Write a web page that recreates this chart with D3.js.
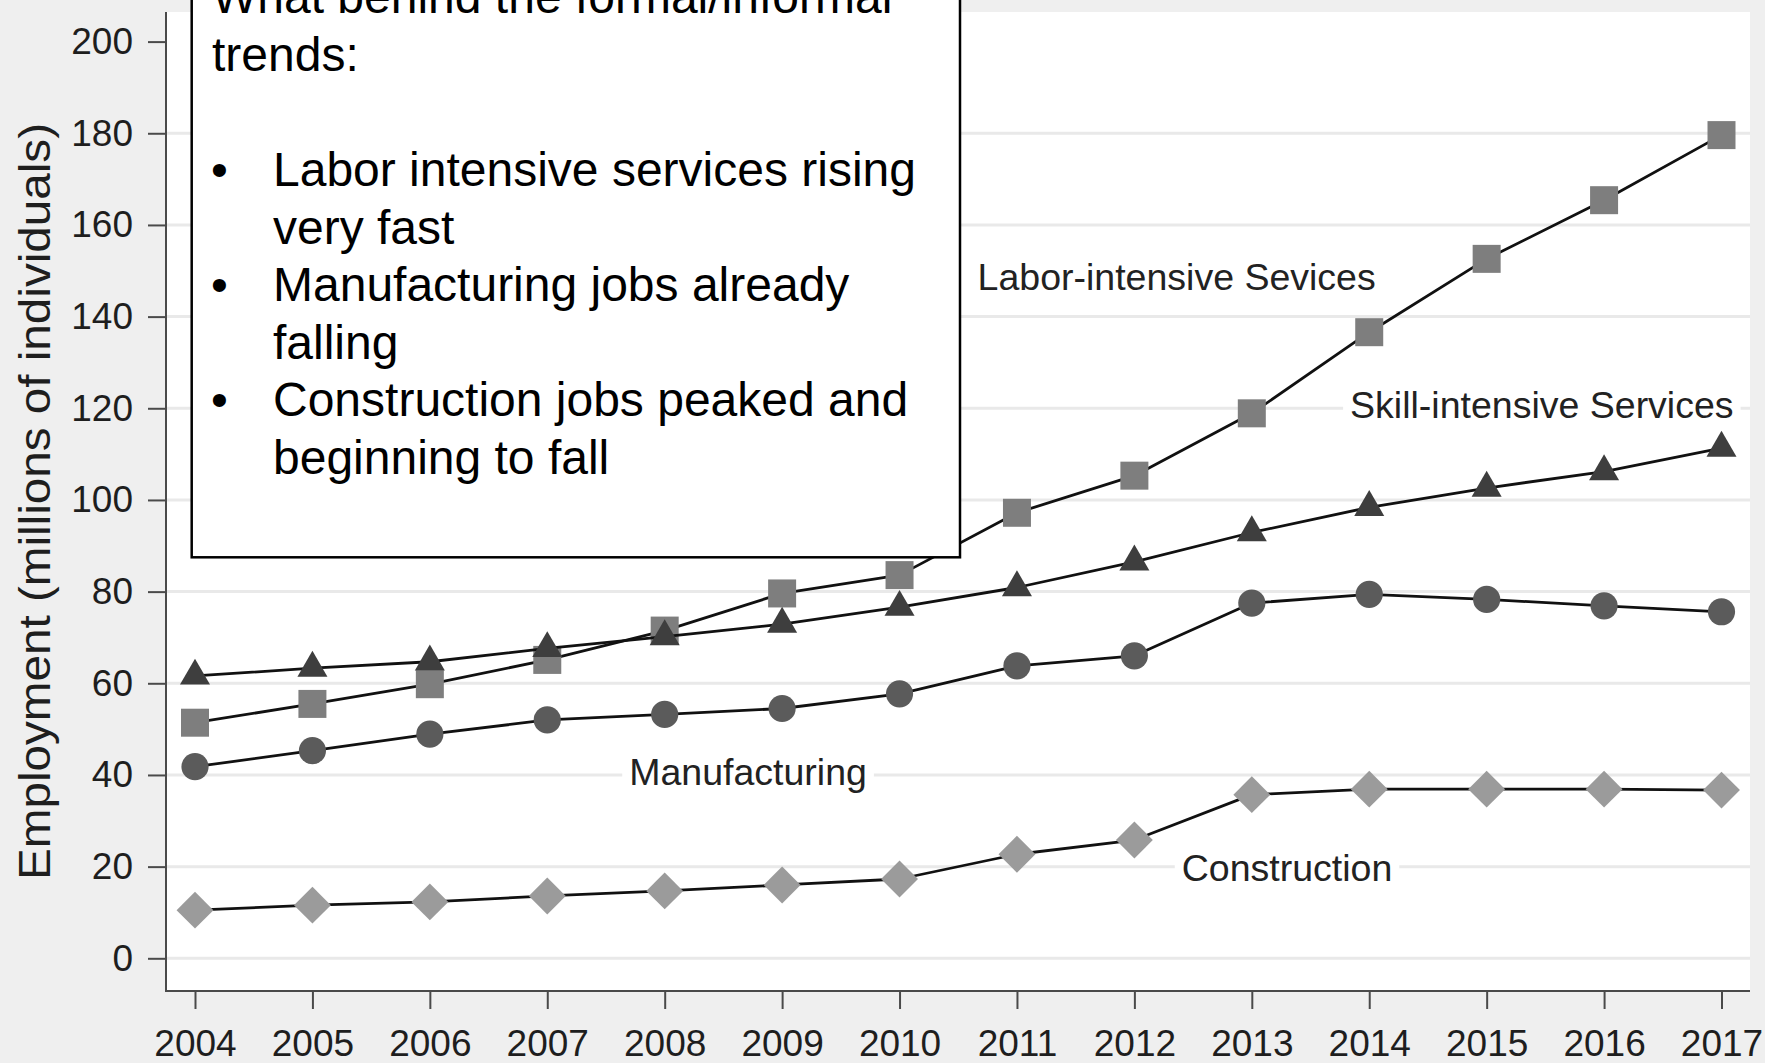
<!DOCTYPE html>
<html>
<head>
<meta charset="utf-8">
<script src="https://cdn.jsdelivr.net/npm/d3@7"></script>
<style>
  html, body { margin: 0; padding: 0; background: #efefef; }
  svg { display: block; font-family: "Liberation Sans", Arial, Helvetica, sans-serif; }
</style>
</head>
<body>
<svg id="chart" width="1765" height="1063"></svg>
<script>
// Employment by sector, millions of individuals
const years = [2004, 2005, 2006, 2007, 2008, 2009, 2010, 2011, 2012, 2013, 2014, 2015, 2016, 2017];
const manufacturing = [41.8, 45.3, 48.9, 52.0, 53.2, 54.5, 57.7, 63.8, 66.0, 77.5, 79.4, 78.3, 76.9, 75.6];
const construction  = [10.5, 11.6, 12.3, 13.6, 14.7, 16.0, 17.3, 22.7, 25.8, 35.7, 36.9, 36.9, 36.9, 36.7];
const laborServices = [51.4, 55.5, 59.8, 65.1, 71.5, 79.6, 83.6, 97.2, 105.3, 118.9, 136.6, 152.6, 165.4, 179.6];
const skillServices = [61.6, 63.3, 64.7, 67.6, 70.2, 72.9, 76.6, 80.9, 86.5, 92.9, 98.4, 102.6, 106.2, 111.3];

const yTicks = [0, 20, 40, 60, 80, 100, 120, 140, 160, 180, 200];
const gridValues = [0, 20, 40, 60, 80, 100, 120, 140, 160, 180];
const yTitle = "Employment (millions of individuals)";

// In-plot series labels: text and the (year, value) point each label is centred on
const labelNames = ["Labor-intensive Sevices", "Skill-intensive Services", "Manufacturing", "Construction"];
const labelYears = [2012.36, 2015.47, 2008.71, 2013.30];
const labelValues = [145.8, 117.8, 37.8, 16.8];

// Annotation box text
const noteLines = [
  { bullet: false, text: "What behind the formal/informal" },
  { bullet: false, text: "trends:" },
  { bullet: false, text: "" },
  { bullet: true,  text: "Labor intensive services rising" },
  { bullet: false, text: "very fast", indent: true },
  { bullet: true,  text: "Manufacturing jobs already" },
  { bullet: false, text: "falling", indent: true },
  { bullet: true,  text: "Construction jobs peaked and" },
  { bullet: false, text: "beginning to fall", indent: true }
];

const series = [
  { values: manufacturing, shape: "circle",   fill: "#5b5b5b" },
  { values: construction,  shape: "diamond",  fill: "#9b9b9b" },
  { values: laborServices, shape: "square",   fill: "#7e7e7e" },
  { values: skillServices, shape: "triangle", fill: "#3e3e3e" }
];

const svg = d3.select("#chart");

// plot region
const plot = { left: 166, right: 1750, top: 12, bottom: 991 };

const x = d3.scaleLinear().domain([2004, 2017]).range([195, 1721.5]);
const y = d3.scaleLinear().domain([0, 200]).range([958.3, 41.6]);

svg.append("rect")
  .attr("x", plot.left).attr("y", plot.top)
  .attr("width", plot.right - plot.left).attr("height", plot.bottom - plot.top)
  .attr("fill", "#ffffff");

// horizontal grid
svg.append("g").selectAll("line")
  .data(gridValues).join("line")
  .attr("x1", plot.left).attr("x2", plot.right)
  .attr("y1", d => y(d)).attr("y2", d => y(d))
  .attr("stroke", "#e9e9e9").attr("stroke-width", 3);

// axes
const axisColor = "#4a4a4a";
const yAxis = svg.append("g")
  .attr("transform", `translate(${plot.left},0)`)
  .call(d3.axisLeft(y).tickValues(yTicks).tickSize(18).tickPadding(15).tickFormat(d3.format("d")));
const xAxis = svg.append("g")
  .attr("transform", `translate(0,${plot.bottom})`)
  .call(d3.axisBottom(x).tickValues(years).tickSize(18).tickPadding(21).tickFormat(d3.format("d")));

[yAxis, xAxis].forEach(g => {
  g.select(".domain").remove();
  g.selectAll(".tick line").attr("stroke", axisColor).attr("stroke-width", 2);
  g.selectAll(".tick text")
    .attr("fill", "#1e1e1e")
    .style("font-size", "37px")
    .style("font-family", "\"Liberation Sans\", Arial, sans-serif");
});

svg.append("line")
  .attr("x1", plot.left).attr("x2", plot.left)
  .attr("y1", plot.top).attr("y2", plot.bottom + 1)
  .attr("stroke", axisColor).attr("stroke-width", 2);
svg.append("line")
  .attr("x1", plot.left - 1).attr("x2", plot.right)
  .attr("y1", plot.bottom).attr("y2", plot.bottom)
  .attr("stroke", axisColor).attr("stroke-width", 2);

// y-axis title
svg.append("text")
  .attr("transform", `translate(50,${(123 + 880) / 2}) rotate(-90)`)
  .attr("text-anchor", "middle")
  .attr("fill", "#1e1e1e")
  .attr("textLength", 757)
  .attr("lengthAdjust", "spacingAndGlyphs")
  .style("font-size", "45px")
  .text(yTitle);

// series labels with a white backing that breaks the grid lines
const labels = svg.append("g");
labelNames.forEach((name, i) => {
  const g = labels.append("g");
  const t = g.append("text")
    .attr("x", x(labelYears[i])).attr("y", y(labelValues[i]))
    .attr("text-anchor", "middle")
    .attr("fill", "#222222")
    .style("font-size", "37.5px")
    .text(name);
  const b = t.node().getBBox();
  g.insert("rect", "text")
    .attr("x", b.x - 7).attr("y", b.y + 2)
    .attr("width", b.width + 14).attr("height", b.height - 4)
    .attr("fill", "#ffffff");
});

// lines and markers
const line = d3.line().x((d, i) => x(years[i])).y(d => y(d));
const symbolFor = {
  circle:   d3.symbol().type(d3.symbolCircle).size(580),
  square:   d3.symbol().type(d3.symbolSquare).size(784),
  diamond:  d3.symbol().type(d3.symbolSquare).size(680),
  triangle: d3.symbol().type(d3.symbolTriangle).size(390)
};

series.forEach(s => {
  const g = svg.append("g");
  g.append("path")
    .datum(s.values)
    .attr("d", line)
    .attr("fill", "none")
    .attr("stroke", "#111111")
    .attr("stroke-width", 2.8)
    .attr("stroke-linejoin", "round");
  g.selectAll("path.mark")
    .data(s.values).join("path")
    .attr("class", "mark")
    .attr("d", symbolFor[s.shape]())
    .attr("transform", (d, i) => `translate(${x(years[i])},${y(d)})` + (s.shape === "diamond" ? " rotate(45)" : ""))
    .attr("fill", s.fill);
});

// annotation box
const box = svg.append("g");
box.append("rect")
  .attr("x", 191.7).attr("y", -20)
  .attr("width", 960 - 191.7).attr("height", 557.3 + 20)
  .attr("fill", "#ffffff")
  .attr("stroke", "#000000")
  .attr("stroke-width", 2.5);

const lineH = 57.6;
const firstBaseline = 70.7 - lineH;
noteLines.forEach((ln, i) => {
  const by = firstBaseline + i * lineH;
  if (ln.bullet) {
    box.append("text").attr("x", 211).attr("y", by)
      .attr("fill", "#000").style("font-size", "48px").text("\u2022");
  }
  box.append("text")
    .attr("x", (ln.bullet || ln.indent) ? 273 : 212)
    .attr("y", by)
    .attr("fill", "#000")
    .style("font-size", "48px")
    .text(ln.text);
});
</script>
</body>
</html>
